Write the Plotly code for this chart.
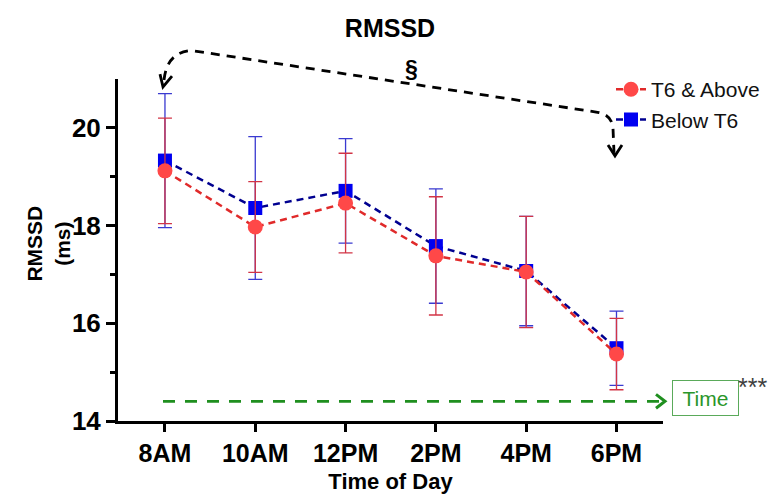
import plotly.graph_objects as go

# ---------------- data ----------------
times = ["8AM", "10AM", "12PM", "2PM", "4PM", "6PM"]
t6_above_mean = [19.12, 17.97, 18.46, 17.38, 17.05, 15.37]
t6_above_sem = [1.08, 0.93, 1.02, 1.21, 1.14, 0.73]
below_t6_mean = [19.33, 18.36, 18.71, 17.58, 17.07, 15.49]
below_t6_sem = [1.37, 1.46, 1.07, 1.17, 1.12, 0.76]
y_ticks = [14, 16, 18, 20]

# ---------------- layout geometry (pixels) ----------------
W, H = 781, 494
L, R, T, B = 110, 655, 71, 418


def px(x):
    return (x - L) / (R - L)


def py(y):
    return (B - y) / (B - T)


FONT = "Liberation Sans, Arial, sans-serif"

fig = go.Figure()

fig.add_trace(go.Scatter(
    x=times, y=below_t6_mean, name="Below T6", mode="lines+markers",
    line=dict(color="#000090", width=2.5, dash="7px,5px"),
    marker=dict(symbol="square", size=14, color="#0000f0"),
    error_y=dict(type="data", array=below_t6_sem, visible=True,
                 color="#3a3ad0", thickness=1.3, width=7),
    legendrank=2,
))
fig.add_trace(go.Scatter(
    x=times, y=t6_above_mean, name="T6 & Above", mode="lines+markers",
    line=dict(color="#e02a2a", width=2.5, dash="7px,5px"),
    marker=dict(symbol="circle", size=15, color="#ff4848"),
    error_y=dict(type="data", array=t6_above_sem, visible=True,
                 color="#d23446", thickness=1.3, width=7),
    legendrank=1,
))

shapes = []
# black dashed curved arrow (8AM <-> 6PM)
pts = [(156, 72), (159, 44), (183, 42), (591, 105), (604, 108), (605, 121), (606, 146)]
p = [(px(a), py(b)) for a, b in pts]
path = (f"M {p[0][0]},{p[0][1]} Q {p[1][0]},{p[1][1]} {p[2][0]},{p[2][1]} "
        f"L {p[3][0]},{p[3][1]} Q {p[4][0]},{p[4][1]} {p[5][0]},{p[5][1]} "
        f"L {p[6][0]},{p[6][1]}")
shapes.append(dict(type="path", xref="paper", yref="paper", path=path,
                   line=dict(color="black", width=2.8, dash="9px,7px")))


def chevron(tip, a1, a2, color, width):
    return dict(type="path", xref="paper", yref="paper",
                path=(f"M {px(a1[0])},{py(a1[1])} L {px(tip[0])},{py(tip[1])} "
                      f"L {px(a2[0])},{py(a2[1])}"),
                line=dict(color=color, width=width))


shapes.append(chevron((155, 79), (152, 66), (164, 68), "black", 2.8))
shapes.append(chevron((607, 149), (600, 138), (614, 138), "black", 2.8))

# green dashed arrow (Time effect)
shapes.append(dict(type="line", xref="paper", yref="paper",
                   x0=px(155), y0=py(398), x1=px(652), y1=py(398),
                   line=dict(color="#1f8f1f", width=2.8, dash="12px,10px")))
shapes.append(chevron((657, 398), (648, 391), (648, 405), "#1f8f1f", 3))

annotations = [
    dict(text="<b>RMSSD</b><br><b>(ms)</b>", x=px(40), y=py(238), xref="paper", yref="paper",
         textangle=-90, showarrow=False, font=dict(family=FONT, size=21, color="black"),
         xanchor="center", yanchor="middle"),
    dict(text="<b>§</b>", x=px(403), y=py(61), xref="paper", yref="paper",
         showarrow=False, font=dict(family=FONT, size=23, color="black"),
         xanchor="center", yanchor="middle"),
    dict(text="Time", x=px(697.5), y=py(395), xref="paper", yref="paper",
         showarrow=False, font=dict(family=FONT, size=21, color="#2a962a"),
         bordercolor="#5aaa5a", borderwidth=1, borderpad=1, width=63, height=32,
         xanchor="center", yanchor="middle", bgcolor="white"),
    dict(text="***", x=px(744), y=py(383), xref="paper", yref="paper",
         showarrow=False, font=dict(family=FONT, size=25, color="#404040"),
         xanchor="center", yanchor="middle"),
]

fig.update_layout(
    width=W, height=H,
    margin=dict(l=L, r=W - R, t=T, b=H - B),
    paper_bgcolor="white", plot_bgcolor="white",
    title=dict(text="<b>RMSSD</b>", x=px(382), xref="paper", xanchor="center",
               y=1 - 20 / H, yanchor="middle",
               font=dict(family=FONT, size=25, color="black")),
    font=dict(family=FONT, color="black"),
    showlegend=True,
    legend=dict(x=px(603), y=py(61), xref="paper", yref="paper",
                xanchor="left", yanchor="top",
                font=dict(family=FONT, size=21, color="#111"),
                bgcolor="rgba(0,0,0,0)", tracegroupgap=2, itemwidth=30),
    xaxis=dict(
        type="category", range=[-0.52, 5.515],
        showline=True, linecolor="black", linewidth=3,
        ticks="outside", ticklen=8, tickwidth=2.5, tickcolor="black",
        tickfont=dict(family=FONT, size=25, color="black", weight="bold"),
        showgrid=False, zeroline=False,
        title=dict(text="<b>Time of Day</b>", font=dict(family=FONT, size=22, color="black"),
                   standoff=8),
    ),
    yaxis=dict(
        range=[14, 21], tickvals=y_ticks,
        showline=True, linecolor="black", linewidth=3,
        ticks="outside", ticklen=9, tickwidth=2.5, tickcolor="black",
        tickfont=dict(family=FONT, size=26, color="black", weight="bold"),
        minor=dict(tickvals=[15, 17, 19], ticks="outside", ticklen=5, tickwidth=2.5,
                   tickcolor="black", showgrid=False),
        showgrid=False, zeroline=False,
    ),
    shapes=shapes,
    annotations=annotations,
)

fig.write_html("out.html")
